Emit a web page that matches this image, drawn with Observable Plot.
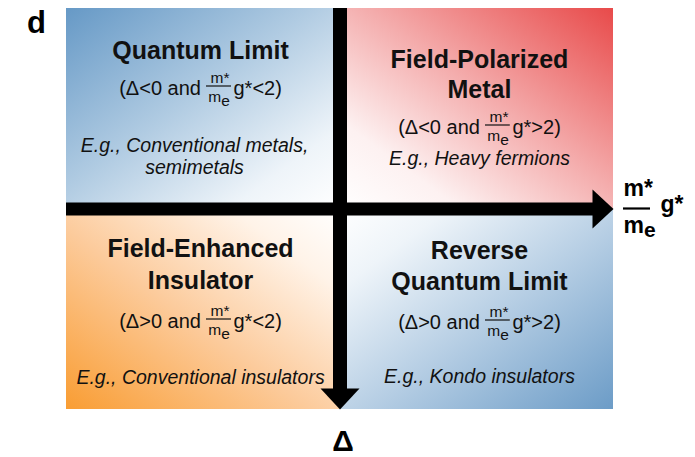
<!DOCTYPE html>
<html><head><meta charset="utf-8">
<script src="https://cdn.jsdelivr.net/npm/d3@7"></script>
<script src="https://cdn.jsdelivr.net/npm/@observablehq/plot@0.6"></script>
<style>html,body{margin:0;padding:0;background:#fff;}</style>
</head><body><div id="chart"></div>
<script>
// ---------- data ----------
const panelLabel = "d";
const deltaLabel = "Δ";
const xLabelNum = "m*", xLabelDen = "m", xLabelSub = "e", xLabelTail = "g*";
const quadrantNames = ["Quantum Limit", "Field-Polarized\nMetal", "Field-Enhanced\nInsulator", "Reverse\nQuantum Limit"];
const quadrantSide = [-1, 1, -1, 1];      // m*/me g* below (-1) or above (+1) 2
const quadrantDelta = [-1, -1, 1, 1];     // sign of Δ
const deltaConditions = ["(Δ<0 and", "(Δ<0 and", "(Δ>0 and", "(Δ>0 and"];
const gConditions = ["g*<2)", "g*>2)", "g*<2)", "g*>2)"];
const fracNum = "m*", fracDen = "m", fracSub = "e";
const examples = ["E.g., Conventional metals,\nsemimetals", "E.g., Heavy fermions", "E.g., Conventional insulators", "E.g., Kondo insulators"];

// ---------- layout / style ----------
const FAM = "Liberation Sans, Arial, Helvetica, sans-serif";
const W = 695, H = 457, M = {top: 8, right: 82, bottom: 48, left: 66};
const pxY = (H - M.top - M.bottom) / 2;
// baseline offsets (px) from each quadrant's centre, and a small horizontal nudge
const layout = [
  {title: [-50.25], cond: -14.25, ex: [42.75, 64.75], exdx: -6},
  {title: [-41.25, -11.25], cond: 24.75, ex: [55.75], exdx: 0},
  {title: [-52.75, -20.75], cond: 18.25, ex: [74.25], exdx: 0},
  {title: [-50.75, -19.75], cond: 19.25, ex: [73.25], exdx: 0}
];
const gradients = [
  {x1: 0, y1: 0, x2: 1, y2: 1, stops: [[0, "#6699c6"], [0.45, "#b0cbe2"], [0.8, "#eef4f9"], [1, "#ffffff"]]},
  {x1: 1, y1: 0, x2: 0, y2: 1, stops: [[0, "#e84a4a"], [0.45, "#f4acac"], [0.78, "#fdf1f1"], [1, "#ffffff"]]},
  {x1: 0, y1: 1, x2: 1, y2: 0, stops: [[0, "#f99d33"], [0.45, "#fccb9c"], [0.8, "#fff3e8"], [1, "#ffffff"]]},
  {x1: 1, y1: 1, x2: 0, y2: 0, stops: [[0, "#6c9cc7"], [0.45, "#b6cee4"], [0.8, "#eef4f9"], [1, "#ffffff"]]}
];

const qx = i => quadrantSide[i] * 0.51;
const qy = i => quadrantDelta[i] * 0.5;
const Y = (i, off) => qy(i) + off / pxY;

// measure text to centre the condition lines
const ctx = document.createElement("canvas").getContext("2d");
const tw = (s, font) => { ctx.font = font; return ctx.measureText(s).width; };
const condSize = 20, fracSize = 15.5, titleSize = 25, exSize = 19.5;
const wA = tw(deltaConditions[0], `${condSize}px Liberation Sans`);
const wSp = tw(" ", `${condSize}px Liberation Sans`);
const wF = 25;
const wC = tw(gConditions[0], `${condSize}px Liberation Sans`);
const total = wA + wSp + wF + 2 + wC;
const aEnd = -total / 2 + wA;
const fcx = aEnd + wSp + wF / 2;
const cStart = fcx + wF / 2 + 2;

// rows
const quads = quadrantNames.map((_, i) => ({
  i, x1: quadrantSide[i] < 0 ? -1 : 0, x2: quadrantSide[i] < 0 ? 0 : 1,
  y1: quadrantDelta[i] < 0 ? -1 : 0, y2: quadrantDelta[i] < 0 ? 0 : 1, fill: `url(#qgrad${i})`
}));
const titleRows = quadrantNames.flatMap((n, i) => n.split("\n").map((t, k) => ({x: qx(i), y: Y(i, layout[i].title[k]), t})));
const exRows = examples.flatMap((n, i) => n.split("\n").map((t, k) => ({x: qx(i) + layout[i].exdx / ((W - M.left - M.right) / 2), y: Y(i, layout[i].ex[k]), t})));
const condRows = quadrantNames.map((_, i) => ({x: qx(i), y: Y(i, layout[i].cond), a: deltaConditions[i], c: gConditions[i]}));

const arrowHead = {draw(c) { c.moveTo(0, 0); c.lineTo(-21, -19.5); c.lineTo(-21, 19.5); c.closePath(); }};

const plot = Plot.plot({
  width: W, height: H,
  marginTop: M.top, marginRight: M.right, marginBottom: M.bottom, marginLeft: M.left,
  x: {domain: [-1, 1], axis: null},
  y: {domain: [-1, 1], reverse: true, axis: null},
  color: {type: "identity"},
  style: {fontFamily: FAM, background: "#fff"},
  marks: [
    Plot.rect(quads, {x1: "x1", x2: "x2", y1: "y1", y2: "y2", fill: "fill"}),
    // axes bars
    Plot.ruleY([0], {x1: -1, x2: 1, insetRight: 16, stroke: "black", strokeWidth: 13}),
    Plot.ruleX([0], {y1: -1, y2: 1, insetBottom: 16, stroke: "black", strokeWidth: 14}),
    Plot.dot([{x: 1, y: 0}], {x: "x", y: "y", symbol: arrowHead, fill: "black", stroke: "none"}),
    Plot.dot([{x: 0, y: 1}], {x: "x", y: "y", symbol: arrowHead, fill: "black", stroke: "none", rotate: 90}),
    // quadrant titles
    Plot.text(titleRows, {x: "x", y: "y", text: "t", lineAnchor: "bottom", fontSize: titleSize, fontWeight: "bold", fill: "#111"}),
    // condition lines
    Plot.text(condRows, {x: "x", y: "y", text: "a", lineAnchor: "bottom", textAnchor: "end", dx: aEnd, fontSize: condSize, fill: "#111"}),
    Plot.text(condRows, {x: "x", y: "y", text: "c", lineAnchor: "bottom", textAnchor: "start", dx: cStart, fontSize: condSize, fill: "#111"}),
    Plot.text(condRows, {x: "x", y: "y", text: () => fracNum, lineAnchor: "bottom", textAnchor: "middle", dx: fcx + 1, dy: -12, fontSize: fracSize, fill: "#111"}),
    Plot.text(condRows, {x: "x", y: "y", text: () => fracDen, lineAnchor: "bottom", textAnchor: "end", dx: fcx + 2.2, dy: 7, fontSize: fracSize, fill: "#111"}),
    Plot.text(condRows, {x: "x", y: "y", text: () => fracSub, lineAnchor: "bottom", textAnchor: "start", dx: fcx + 2.2, dy: 11, fontSize: fracSize, fill: "#111"}),
    Plot.ruleY(condRows, {x1: "x", x2: "x", y: "y", insetLeft: fcx - wF / 2, insetRight: -(fcx + wF / 2), dy: -8.5, stroke: "#111", strokeWidth: 1.2}),
    // examples
    Plot.text(exRows, {x: "x", y: "y", text: "t", lineAnchor: "bottom", fontSize: exSize, fontStyle: "italic", fill: "#111"}),
    // x-axis label  m*/me g*
    Plot.text([0], {x: 1, y: 0, text: () => xLabelNum, lineAnchor: "bottom", textAnchor: "start", dx: 10, dy: -13.5, fontSize: 23, fontWeight: "bold"}),
    Plot.ruleY([0], {x1: 1, x2: 1, insetLeft: 10, insetRight: -37, dy: -0.5, stroke: "black", strokeWidth: 2.2}),
    Plot.text([0], {x: 1, y: 0, text: () => xLabelDen, lineAnchor: "bottom", textAnchor: "start", dx: 10, dy: 23.5, fontSize: 23, fontWeight: "bold"}),
    Plot.text([0], {x: 1, y: 0, text: () => xLabelSub, lineAnchor: "bottom", textAnchor: "start", dx: 30.5, dy: 27.5, fontSize: 21, fontWeight: "bold"}),
    Plot.text([0], {x: 1, y: 0, text: () => xLabelTail, lineAnchor: "bottom", textAnchor: "start", dx: 47, dy: 3, fontSize: 23, fontWeight: "bold"}),
    // Δ label
    Plot.text([0], {x: 0, y: 1, text: () => deltaLabel, lineAnchor: "bottom", textAnchor: "middle", dx: 3, dy: 41, fontSize: 30, fontWeight: "bold"}),
    // panel label
    Plot.text([0], {x: -1, y: -1, text: () => panelLabel, lineAnchor: "bottom", textAnchor: "middle", dx: -30, dy: 24, fontSize: 31, fontWeight: "bold"})
  ]
});

// gradient definitions
const svg = d3.select(plot);
const defs = svg.insert("defs", ":first-child");
gradients.forEach((g, i) => {
  const lg = defs.append("linearGradient").attr("id", `qgrad${i}`)
    .attr("x1", g.x1).attr("y1", g.y1).attr("x2", g.x2).attr("y2", g.y2);
  g.stops.forEach(([o, c]) => lg.append("stop").attr("offset", o).attr("stop-color", c));
});
document.getElementById("chart").appendChild(plot);
</script>
</body></html>
